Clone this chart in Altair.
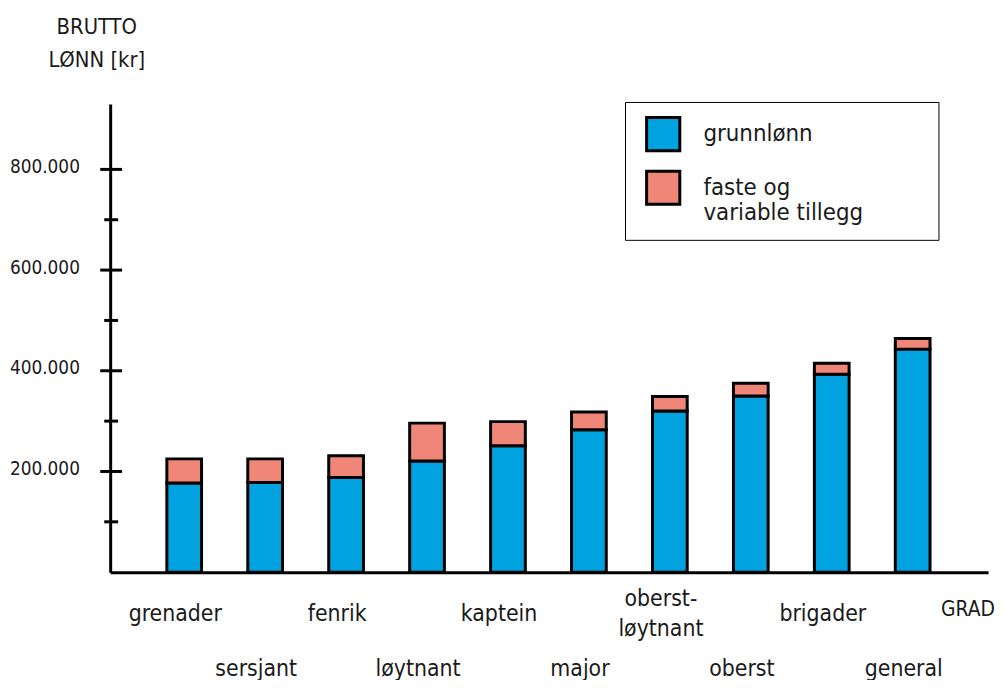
import altair as alt
import pandas as pd

# ---- data ----
grader = ["grenader", "sersjant", "fenrik", "løytnant", "kaptein", "major",
          "oberst-løytnant", "oberst", "brigader", "general"]
etiketter = ["grenader", "sersjant", "fenrik", "løytnant", "kaptein", "major",
             "oberst-\nløytnant", "oberst", "brigader", "general"]
grunnlonn = [177000, 178000, 188000, 221000, 251000, 283000, 320000, 350000, 393000, 443000]
tillegg = [48000, 47000, 43000, 75000, 48000, 35000, 29000, 25000, 22000, 21000]
serier = ["grunnlønn", "faste og variable tillegg"]
farger = ["#00A3E0", "#EF8677"]
hovedmerker = [200000, 400000, 600000, 800000]
mellommerker = [100000, 300000, 500000, 700000]

FONT = "DejaVu Sans Condensed, DejaVu Sans, sans-serif"
TXT = "#1a1a1a"

rows = []
for g, b, t in zip(grader, grunnlonn, tillegg):
    rows.append({"grad": g, "serie": serier[0], "verdi": b, "rekkefolge": 0})
    rows.append({"grad": g, "serie": serier[1], "verdi": t, "rekkefolge": 1})
bars_df = pd.DataFrame(rows)

lab_df = pd.DataFrame({"grad": grader, "etikett": etiketter,
                       "rad": [i % 2 for i in range(len(grader))]})

yscale = alt.Scale(domain=[0, 930000], nice=False)
xscale = alt.Scale(paddingInner=0, paddingOuter=0.423, align=0.49)

xaxis = alt.Axis(labels=False, ticks=False, domain=True, domainWidth=3,
                 domainColor="black", title="GRAD", titleX=837, titleY=38,
                 titleAlign="left", titleBaseline="middle", titleFont=FONT,
                 titleFontSize=21, titleFontWeight="normal", titleColor=TXT)
yaxis = alt.Axis(values=hovedmerker, ticks=False, grid=False,
                 labelExpr="replace(format(datum.value, ',.0f'), ',', '.')",
                 labelPadding=31, labelFontSize=19, labelFont=FONT,
                 labelColor=TXT, labelOffset=-3, domainWidth=3,
                 domainColor="black", title=["BRUTTO", "LØNN [kr]"],
                 titleAngle=0, titleX=-14, titleY=-78, titleAlign="center",
                 titleBaseline="middle", titleFont=FONT, titleFontSize=22,
                 titleFontWeight="normal", titleColor=TXT, titleLineHeight=33)

# trailing no-break spaces widen the legend box; the zero-width space keeps them from being trimmed
pad = "\u00a0" * 9 + "\u200b"
label_expr = ("datum.label == 'faste og variable tillegg' ? "
              "['faste og', 'variable tillegg" + pad + "'] : datum.label")

bars = alt.Chart(bars_df).mark_bar(size=35, stroke="black", strokeWidth=3).encode(
    x=alt.X("grad:N", sort=grader, scale=xscale, axis=xaxis),
    y=alt.Y("verdi:Q", stack="zero", scale=yscale, axis=yaxis),
    color=alt.Color("serie:N", scale=alt.Scale(domain=serier, range=farger),
                    legend=alt.Legend(title=None, orient="none", legendX=519, legendY=-2,
                                      direction="vertical", symbolType="square",
                                      symbolSize=1120, symbolStrokeColor="black",
                                      symbolStrokeWidth=3, symbolOpacity=1,
                                      labelFont=FONT, labelFontSize=24, labelColor=TXT,
                                      labelOffset=22, labelLimit=500, padding=14,
                                      symbolOffset=6, rowPadding=7, strokeColor="black",
                                      labelExpr=label_expr)),
    order=alt.Order("rekkefolge:Q"),
)

major = alt.Chart(pd.DataFrame({"verdi": hovedmerker})).mark_rule(
    color="black", strokeWidth=3).encode(
    y=alt.Y("verdi:Q", scale=yscale, axis=yaxis), x=alt.value(-10), x2=alt.value(12))
minor = alt.Chart(pd.DataFrame({"verdi": mellommerker})).mark_rule(
    color="black", strokeWidth=3).encode(
    y=alt.Y("verdi:Q", scale=yscale, axis=yaxis), x=alt.value(-6), x2=alt.value(8))


def labels(filt, ypix):
    return alt.Chart(lab_df).transform_filter(filt).mark_text(
        font=FONT, fontSize=23, color=TXT, lineBreak="\n", dx=-9, baseline="middle",
        lineHeight=30).encode(
        x=alt.X("grad:N", sort=grader, scale=xscale, axis=xaxis),
        y=alt.value(ypix), text="etikett:N")


multi = "indexof(datum.etikett, '\\n') >= 0"
rad1 = labels(f"datum.rad == 0 && !({multi})", 514)
rad1_multi = labels(f"datum.rad == 0 && ({multi})", 499)
rad2 = labels("datum.rad == 1", 570)

chart = alt.layer(bars, major, minor, rad1, rad1_multi, rad2).properties(
    width=885, height=472,
    autosize=alt.AutoSizeParams(type="none"),
    padding={"left": 103, "top": 94, "right": 9, "bottom": 106},
).configure_view(stroke=None)

chart.save("out.html", embed_options={"renderer": "svg", "actions": False})
